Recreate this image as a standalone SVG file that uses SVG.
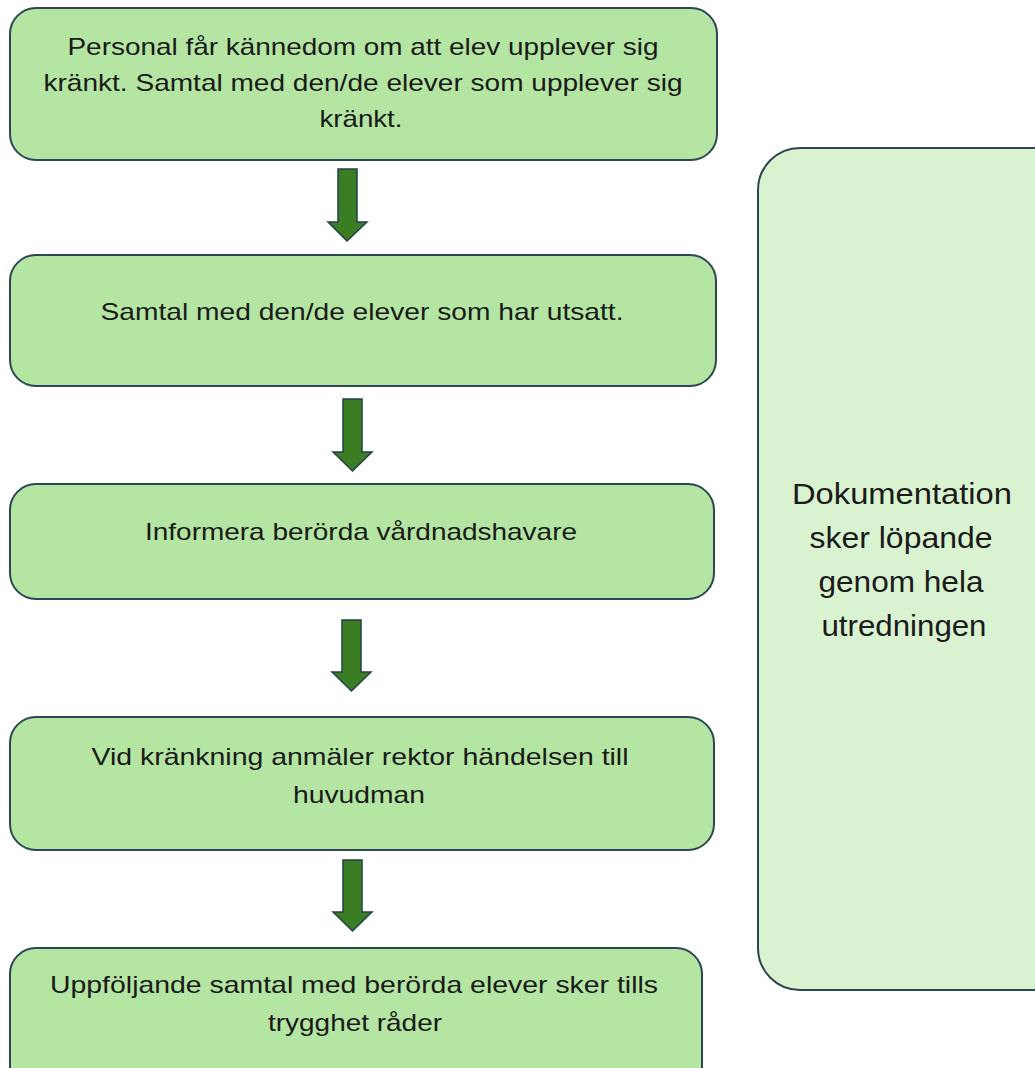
<svg xmlns="http://www.w3.org/2000/svg" width="1035" height="1068" viewBox="0 0 1035 1068">
<style>
.box{fill:#b4e5a2;stroke:#2c4653;stroke-width:2}
.side{fill:#d9f2d0;stroke:#2c4653;stroke-width:2}
.arr{fill:#3b7d23;stroke:#23404a;stroke-width:1.5;stroke-linejoin:miter}
.t{font-family:"Liberation Sans",Arial,sans-serif;font-size:24px;fill:#1a1a1a;text-anchor:middle}
.ts{font-family:"Liberation Sans",Arial,sans-serif;font-size:29px;fill:#1a1a1a;text-anchor:middle}
</style>
<rect width="1035" height="1068" fill="#ffffff"/>
<g id="node1">
<rect class="box" x="10" y="8" width="707" height="152" rx="26"/>
<text class="t" x="363" y="55" textLength="591" lengthAdjust="spacingAndGlyphs">Personal får kännedom om att elev upplever sig</text>
<text class="t" x="363" y="91" textLength="639" lengthAdjust="spacingAndGlyphs">kränkt. Samtal med den/de elever som upplever sig</text>
<text class="t" x="361" y="127" textLength="83" lengthAdjust="spacingAndGlyphs">kränkt.</text>
</g>
<g id="node2">
<rect class="box" x="10" y="255" width="706" height="131" rx="26"/>
<text class="t" x="362" y="320" textLength="523" lengthAdjust="spacingAndGlyphs">Samtal med den/de elever som har utsatt.</text>
</g>
<g id="node3">
<rect class="box" x="10" y="484" width="704" height="115" rx="26"/>
<text class="t" x="361" y="540" textLength="432" lengthAdjust="spacingAndGlyphs">Informera berörda vårdnadshavare</text>
</g>
<g id="node4">
<rect class="box" x="10" y="717" width="704" height="133" rx="26"/>
<text class="t" x="360" y="765" textLength="537" lengthAdjust="spacingAndGlyphs">Vid kränkning anmäler rektor händelsen till</text>
<text class="t" x="359" y="803" textLength="132" lengthAdjust="spacingAndGlyphs">huvudman</text>
</g>
<g id="node5">
<rect class="box" x="10" y="948" width="692" height="150" rx="26"/>
<text class="t" x="354" y="993" textLength="608" lengthAdjust="spacingAndGlyphs">Uppföljande samtal med berörda elever sker tills</text>
<text class="t" x="355" y="1031" textLength="174" lengthAdjust="spacingAndGlyphs">trygghet råder</text>
</g>
<g id="side">
<rect class="side" x="758" y="148" width="320" height="842" rx="42"/>
<text class="ts" x="902" y="504" textLength="220" lengthAdjust="spacingAndGlyphs">Dokumentation</text>
<text class="ts" x="901" y="548" textLength="183" lengthAdjust="spacingAndGlyphs">sker löpande</text>
<text class="ts" x="901" y="592" textLength="165" lengthAdjust="spacingAndGlyphs">genom hela</text>
<text class="ts" x="904" y="636" textLength="165" lengthAdjust="spacingAndGlyphs">utredningen</text>
</g>
<g id="connectors">
<path class="arr" d="M338,169 H357 V222 H367 L347,241 L328,222 H338 Z"/>
<path class="arr" d="M343,399 H362 V452 H372 L352.5,471 L333,452 H343 Z"/>
<path class="arr" d="M342,620 H361 V672 H371 L351.5,691 L332,672 H342 Z"/>
<path class="arr" d="M343,860 H362 V912 H372 L352.5,931 L333,912 H343 Z"/>
</g>
</svg>
